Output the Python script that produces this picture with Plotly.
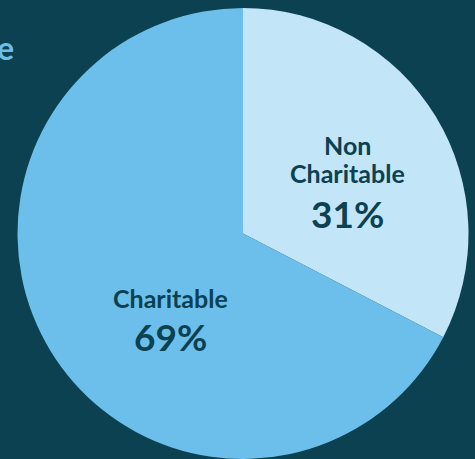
import plotly.graph_objects as go

# Data
categories = ["Non Charitable", "Charitable"]
label_lines = [["Non", "Charitable"], ["Charitable"]]
shown_percent = ["31%", "69%"]
slice_values = [32.6, 67.4]  # arc sizes as drawn

BG = "#0b4150"
COLORS = ["#c2e5f8", "#6bbfea"]
TEXT_DARK = "#0b4150"
W, H = 475, 459

fig = go.Figure(
    go.Pie(
        labels=categories,
        values=slice_values,
        textinfo="none",
        sort=False,
        direction="clockwise",
        rotation=0,
        marker=dict(colors=COLORS, line=dict(width=0)),
        hoverinfo="label+percent",
        showlegend=False,
        domain=dict(x=[16 / W, 470 / W], y=[0, 1 - 8 / H]),
    )
)

# text placement (pixels): first label line centre y, percent centre y
label_x = [347, 170]
label_y0 = [145, 298]
line_step = 28
pct_y = [213, 336]


def ann(text, x, y, size, color):
    fig.add_annotation(
        text=f"<b>{text}</b>", xref="paper", yref="paper",
        x=x / W, y=1 - y / H, xanchor="center", yanchor="middle",
        showarrow=False, align="center",
        font=dict(family="Lato", size=size, color=color),
    )


for lines, pct, lx, ly0, py in zip(label_lines, shown_percent, label_x, label_y0, pct_y):
    for i, line in enumerate(lines):
        ann(line, lx, ly0 + i * line_step, 25, TEXT_DARK)
    ann(pct, lx, py, 37, TEXT_DARK)

fig.add_annotation(
    text="<b>e</b>",
    xref="paper", yref="paper",
    x=16 / W, y=1 - 48 / H,
    xanchor="right", yanchor="middle",
    showarrow=False,
    font=dict(family="Lato", size=32, color="#6bbfea"),
)

fig.update_layout(
    width=W,
    height=H,
    margin=dict(l=0, r=0, t=0, b=0),
    paper_bgcolor=BG,
    plot_bgcolor=BG,
    font=dict(family="Lato"),
)

fig.write_html("out.html")
